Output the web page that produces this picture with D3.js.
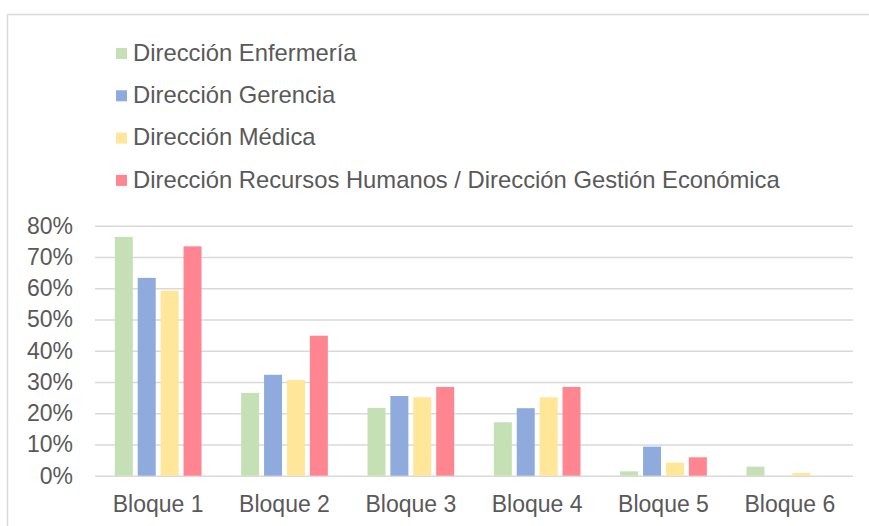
<!DOCTYPE html>
<html>
<head>
<meta charset="utf-8">
<script src="https://cdn.jsdelivr.net/npm/d3@7"></script>
<style>
  body { margin: 0; background: #fff; }
  text { font-family: "Liberation Sans", Arial, sans-serif; fill: #595959; }
</style>
</head>
<body>
<div class="chart"></div>
<script>
// data
let categories = ["Bloque 1", "Bloque 2", "Bloque 3", "Bloque 4", "Bloque 5", "Bloque 6"];
let seriesNames = ["Dirección Enfermería", "Dirección Gerencia", "Dirección Médica",
  "Dirección Recursos Humanos / Dirección Gestión Económica"];
let enfermeria = [0.764, 0.265, 0.217, 0.171, 0.014, 0.029];
let gerencia   = [0.633, 0.323, 0.255, 0.216, 0.093, 0];
let medica     = [0.592, 0.306, 0.251, 0.251, 0.042, 0.009];
let rrhh       = [0.734, 0.448, 0.284, 0.284, 0.059, 0];
let yTicks = [0, 0.1, 0.2, 0.3, 0.4, 0.5, 0.6, 0.7, 0.8];
let colors = ["#c5e0b4", "#8faadc", "#ffe699", "#ff8690"];

let allSeries = [enfermeria, gerencia, medica, rrhh];

let width = 869, height = 526;
let plot = {left: 95, right: 853, top: 225.7, bottom: 475.7};

let svg = d3.select(".chart").append("svg")
  .attr("width", width)
  .attr("height", height);

// chart frame
svg.append("rect")
  .attr("x", 7.5).attr("y", 14.5)
  .attr("width", 880).attr("height", 540)
  .attr("fill", "#fff")
  .attr("stroke", "#d9d9d9")
  .attr("stroke-width", 1.5);

let x0 = d3.scaleBand()
  .domain(categories)
  .range([plot.left, plot.right])
  .paddingInner(0).paddingOuter(0);

let groupW = 86.7;
let x1 = d3.scaleBand()
  .domain(d3.range(seriesNames.length))
  .range([0, groupW])
  .paddingInner(0.214).paddingOuter(0);

let y = d3.scaleLinear()
  .domain([0, 0.8])
  .range([plot.bottom, plot.top]);

// gridlines + y labels
let yAxis = svg.append("g")
  .attr("transform", "translate(" + plot.left + ",0)")
  .call(d3.axisLeft(y).tickValues(yTicks).tickFormat(d3.format(".0%"))
    .tickSize(-(plot.right - plot.left)).tickPadding(22));
yAxis.select(".domain").remove();
yAxis.selectAll("line").attr("stroke", "#d9d9d9").attr("stroke-width", 1.5);
yAxis.selectAll("text")
  .attr("font-size", "23px")
  .attr("fill", "#595959")
  .attr("font-family", "Liberation Sans, Arial, sans-serif");

// bars
let rows = [];
categories.forEach((c, i) => {
  allSeries.forEach((s, j) => {
    rows.push({cat: c, idx: j, value: s[i]});
  });
});

svg.append("g").selectAll("rect")
  .data(rows.filter(d => d.value > 0))
  .enter()
  .append("rect")
  .attr("x", d => x0(d.cat) + (x0.bandwidth() - groupW) / 2 + x1(d.idx))
  .attr("y", d => y(d.value))
  .attr("width", x1.bandwidth())
  .attr("height", d => y(0) - y(d.value))
  .attr("fill", d => colors[d.idx]);

// x labels
let xAxis = svg.append("g")
  .attr("transform", "translate(0," + plot.bottom + ")")
  .call(d3.axisBottom(x0).tickSize(0).tickPadding(20));
xAxis.select(".domain").remove();
xAxis.selectAll("text")
  .attr("font-size", "23px")
  .attr("fill", "#595959")
  .attr("font-family", "Liberation Sans, Arial, sans-serif");

// legend
let legend = svg.append("g").selectAll("g")
  .data(seriesNames)
  .enter()
  .append("g")
  .attr("transform", (d, i) => "translate(0," + (52.5 + i * 42.3) + ")");

legend.append("rect")
  .attr("x", 116).attr("y", -4.5)
  .attr("width", 11).attr("height", 11)
  .attr("fill", (d, i) => colors[i]);

legend.append("text")
  .attr("x", 133).attr("y", 0)
  .attr("dy", "0.35em")
  .attr("font-size", "23.8px")
  .text(d => d);
</script>
</body>
</html>
